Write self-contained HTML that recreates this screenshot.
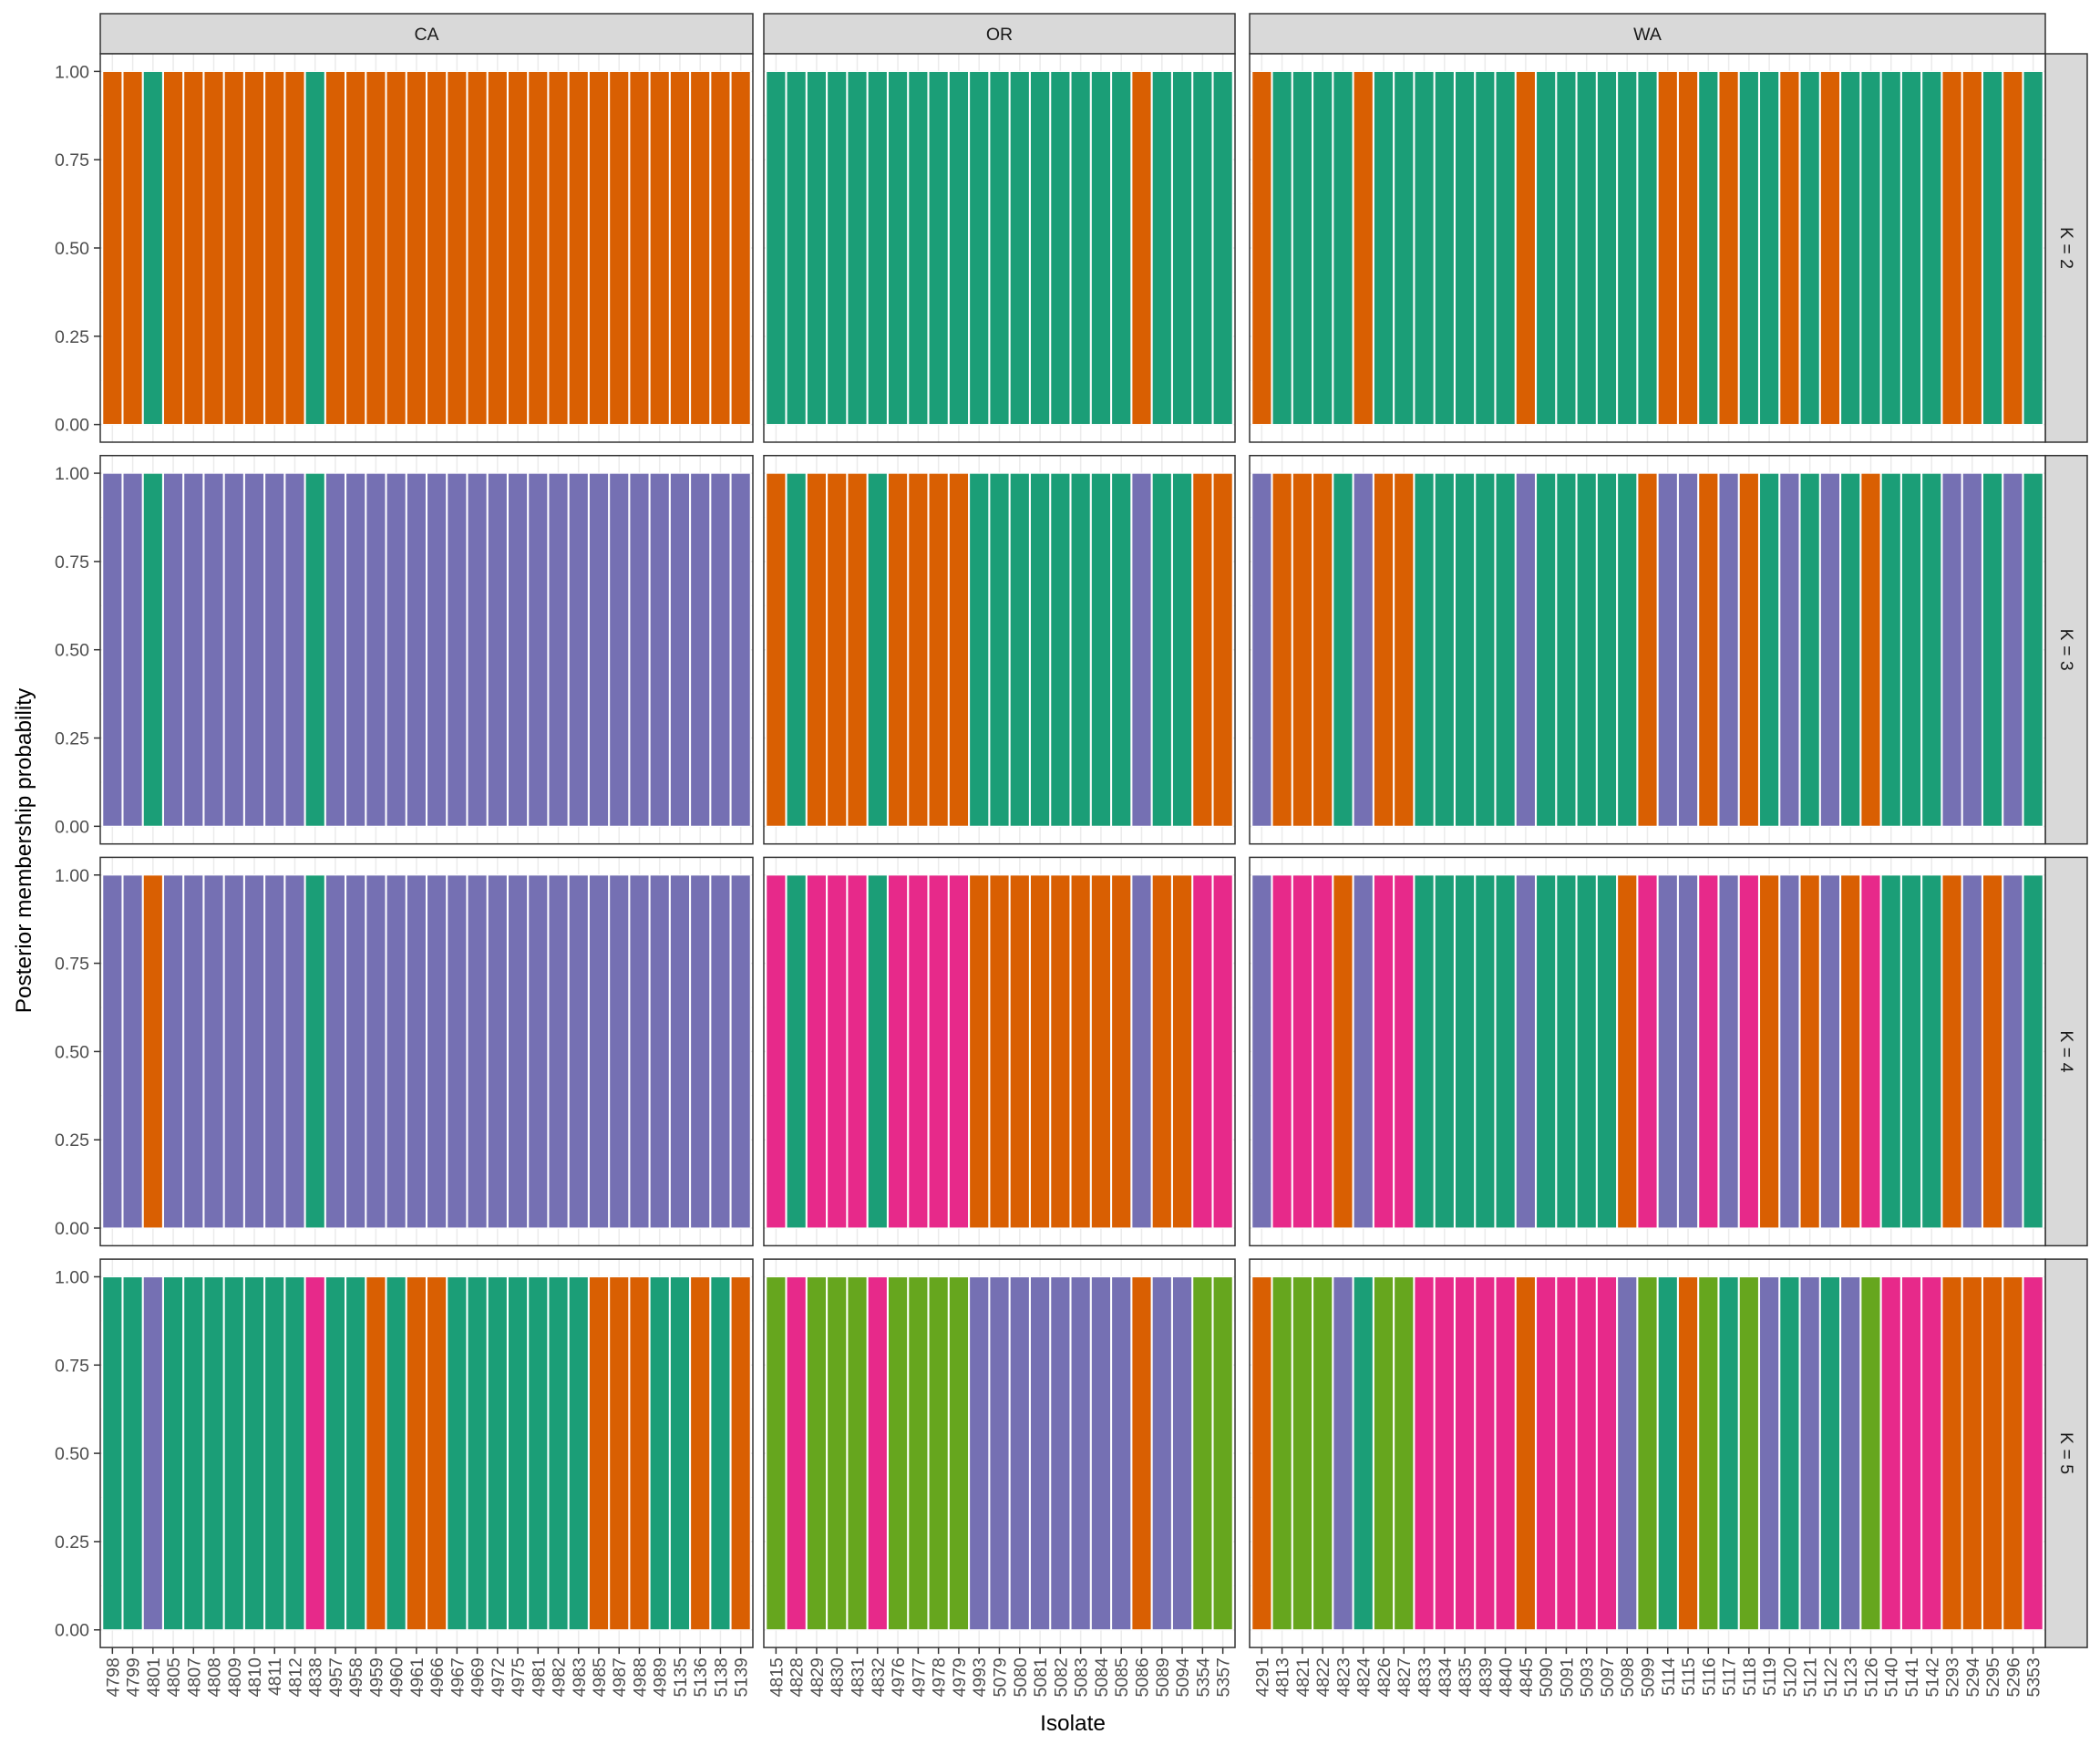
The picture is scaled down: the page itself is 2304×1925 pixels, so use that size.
<!DOCTYPE html>
<html><head><meta charset="utf-8"><style>
html,body{margin:0;padding:0;background:#fff;}
svg text{font-family:"Liberation Sans",sans-serif;}
</style></head><body>
<svg id="chart" width="2304" height="1920" viewBox="0 0 2304 1920" xmlns="http://www.w3.org/2000/svg"></svg>
<script>
const kLabels = ["K = 2","K = 3","K = 4","K = 5"];
const popLabels = ["CA","OR","WA"];
const caIsolates = ["4798","4799","4801","4805","4807","4808","4809","4810","4811","4812","4838","4957","4958","4959","4960","4961","4966","4967","4969","4972","4975","4981","4982","4983","4985","4987","4988","4989","5135","5136","5138","5139"];
const orIsolates = ["4815","4828","4829","4830","4831","4832","4976","4977","4978","4979","4993","5079","5080","5081","5082","5083","5084","5085","5086","5089","5094","5354","5357"];
const waIsolates = ["4291","4813","4821","4822","4823","4824","4826","4827","4833","4834","4835","4839","4840","4845","5090","5091","5093","5097","5098","5099","5114","5115","5116","5117","5118","5119","5120","5121","5122","5123","5126","5140","5141","5142","5293","5294","5295","5296","5353"];
// cluster assignment per isolate (O=orange, G=green, P=purple, K=pink, L=lime), probability 1.00
const caK2 = "OOGOOOOOOOGOOOOOOOOOOOOOOOOOOOOO";
const caK3 = "PPGPPPPPPPGPPPPPPPPPPPPPPPPPPPPP";
const caK4 = "PPOPPPPPPPGPPPPPPPPPPPPPPPPPPPPP";
const caK5 = "GGPGGGGGGGKGGOGOOGGGGGGGOOOGGOGO";
const orK2 = "GGGGGGGGGGGGGGGGGGOGGGG";
const orK3 = "OGOOOGOOOOGGGGGGGGPGGOO";
const orK4 = "KGKKKGKKKKOOOOOOOOPOOKK";
const orK5 = "LKLLLKLLLLPPPPPPPPOPPLL";
const waK2 = "OGGGGOGGGGGGGOGGGGGGOOGOGGOGOGGGGGOOGOG";
const waK3 = "POOOGPOOGGGGGPGGGGGOPPOPOGPGPGOGGGPPGPG";
const waK4 = "PKKKOPKKGGGGGPGGGGOKPPKPKOPOPOKGGGOPOPG";
const waK5 = "OLLLPGLLKKKKKOKKKKPLGOLGLPGPGPLKKKOOOOK";
const probValue = 1.0;
const yTicks = [0,0.25,0.5,0.75,1.0];
const yTickLabels = ["0.00","0.25","0.50","0.75","1.00"];

const colors = {O:"#D95F02",G:"#1B9E77",P:"#7570B3",K:"#E7298A",L:"#66A61E"};
const NS="http://www.w3.org/2000/svg";
const svg=document.getElementById('chart');
function mk(tag,attrs,parent){const e=document.createElementNS(NS,tag);for(const k in attrs)e.setAttribute(k,attrs[k]);(parent||svg).appendChild(e);return e;}

const panelsX=[[110,826],[838,1355],[1371,2244]];
const isoSets=[caIsolates,orIsolates,waIsolates];
const rowData=[[caK2,orK2,waK2],[caK3,orK3,waK3],[caK4,orK4,waK4],[caK5,orK5,waK5]];
const rowTop0=59, H=426, rowGap=14.7, PAD=0.1;
function yScale(v,top){return top+H*(1.05-v)/1.1;}
function bandU(p){const [a,b]=panelsX[p];return (b-a)/(isoSets[p].length+2*PAD);}
function xScale(i,p){const a=panelsX[p][0];return a+bandU(p)*(PAD+i+0.5);}

popLabels.forEach((lab,p)=>{
  const [a,b]=panelsX[p];
  const g=mk('g',{});
  
  
  mk('rect',{x:a,y:15,width:b-a,height:44,fill:'#D9D9D9',stroke:'#333333','stroke-width':1.5},g);
  const t=mk('text',{x:(a+b)/2,y:44,'text-anchor':'middle','font-size':19.5,fill:'#1A1A1A'},g);
  t.textContent=lab;
});

rowData.forEach((row,r)=>{
  const top=rowTop0+r*(H+rowGap);
  const sg=mk('g',{});
  
  
  mk('rect',{x:2244,y:top,width:46,height:H,fill:'#D9D9D9',stroke:'#333333','stroke-width':1.5},sg);
  const st=mk('text',{x:2267,y:top+H/2,'text-anchor':'middle','dominant-baseline':'central','font-size':19.5,fill:'#1A1A1A',transform:`rotate(90 2267 ${top+H/2})`},sg);
  st.textContent=kLabels[r];
  row.forEach((str,p)=>{
    const [a,b]=panelsX[p];
    const pg=mk('g',{});
    
    
    mk('rect',{x:a,y:top,width:b-a,height:H,fill:'#fff'},pg);
    yTicks.forEach(v=>{mk('line',{x1:a,x2:b,y1:yScale(v,top),y2:yScale(v,top),stroke:'#EBEBEB','stroke-width':1.5},pg);});
    [0.125,0.375,0.625,0.875].forEach(v=>{mk('line',{x1:a,x2:b,y1:yScale(v,top),y2:yScale(v,top),stroke:'#F3F3F3','stroke-width':0.8},pg);});
    isoSets[p].forEach((iso,i)=>{const x=xScale(i,p);mk('line',{x1:x,x2:x,y1:top,y2:top+H,stroke:'#EBEBEB','stroke-width':1.5},pg);});
    const u=bandU(p);
    for(let i=0;i<str.length;i++){
      const x=xScale(i,p);
      const bar=mk('rect',{x:x-u*0.48,y:yScale(probValue,top),width:u*0.96,height:yScale(0,top)-yScale(probValue,top),fill:colors[str[i]],stroke:'#ffffff','stroke-width':1.2},pg);
      
      
    }
    mk('rect',{x:a,y:top,width:b-a,height:H,fill:'none',stroke:'#333333','stroke-width':1.5},pg);
  });
  const yg=mk('g',{});
  
  
  yTicks.forEach((v,j)=>{
    const y=yScale(v,top);
    mk('line',{x1:103,x2:110,y1:y,y2:y,stroke:'#333333','stroke-width':1.5},yg);
    const t=mk('text',{x:98,y:y+7,'text-anchor':'end','font-size':19.5,fill:'#4D4D4D'},yg);
    t.textContent=yTickLabels[j];
  });
});

const bottom=rowTop0+3*(H+rowGap)+H;
isoSets.forEach((set,p)=>{
  const xg=mk('g',{});
  
  
  set.forEach((iso,i)=>{
    const x=xScale(i,p);
    mk('line',{x1:x,x2:x,y1:bottom,y2:bottom+7,stroke:'#333333','stroke-width':1.5},xg);
    const t=mk('text',{x:x+7,y:bottom+11,'text-anchor':'end','font-size':19.5,fill:'#4D4D4D',transform:`rotate(-90 ${x+7} ${bottom+11})`},xg);
    t.textContent=iso;
  });
});

const xt=mk('text',{x:1177,y:1898,'text-anchor':'middle','font-size':24.4,fill:'#000'});


xt.textContent='Isolate';
const yt=mk('text',{x:34,y:933,'text-anchor':'middle','font-size':24.4,fill:'#000',transform:'rotate(-90 34 933)'});


yt.textContent='Posterior membership probability';
</script>
</body></html>
